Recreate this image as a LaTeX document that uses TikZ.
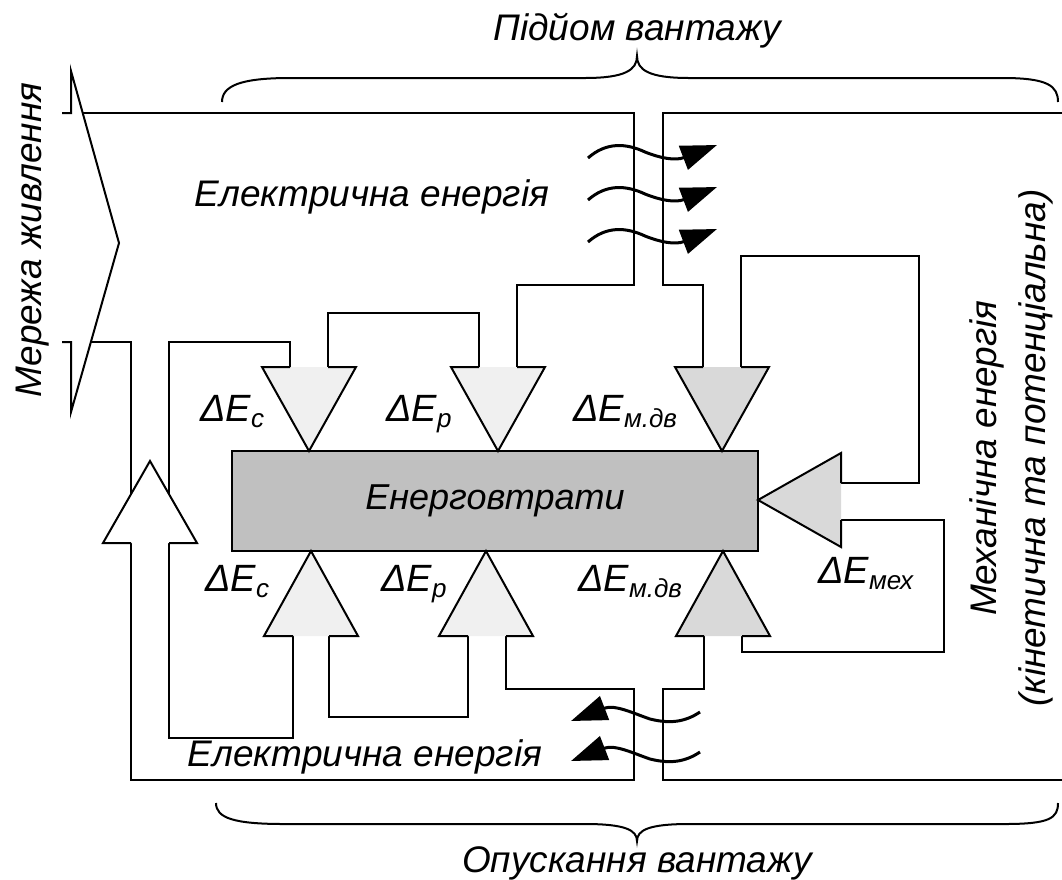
\documentclass[tikz,border=0pt]{standalone}
\usepackage{fontspec}
\setmainfont{Liberation Sans}
\usetikzlibrary{arrows.meta}
\definecolor{lt}{HTML}{F0F0F0}
\definecolor{md}{HTML}{D9D9D9}
\definecolor{bx}{HTML}{C0C0C0}
\newcommand\sbs[1]{\raisebox{-6pt}{\fontsize{26}{28}\selectfont #1}}
\begin{document}
\begin{tikzpicture}[x=1pt,y=-1pt,
  ln/.style={line width=2pt, line join=miter},
  tri/.style={line width=2pt, line join=miter},
  wavearrow/.style={line width=3pt, -{Triangle[length=36pt,width=25pt]}},
  lbl/.style={inner sep=0pt, font=\itshape\fontsize{37}{44}\selectfont},
  dlbl/.style={inner sep=0pt, anchor=base west, font=\itshape\fontsize{38}{42}\selectfont}]
\useasboundingbox (0,0) rectangle (1062,879);

% network shape
\coordinate (n1) at (62,113); \coordinate (n2) at (71,113); \coordinate (n3) at (71,71);
\coordinate (n4) at (119,243); \coordinate (n5) at (71,412); \coordinate (n6) at (71,342);
\coordinate (n7) at (62,342);
\draw[ln] (n1) -- (n2) -- (n3) -- (n4) -- (n5) -- (n6) -- (n7);
\coordinate (netTop) at (83,113);
\coordinate (netBot) at (91,342);

% stems
\coordinate (tcL) at (290,367); \coordinate (tcR) at (328,367);
\coordinate (tpL) at (479,367); \coordinate (tpR) at (517,367);
\coordinate (tmL) at (703,367); \coordinate (tmR) at (741,367);
\coordinate (bcL) at (293,636); \coordinate (bcR) at (329,636);
\coordinate (bpL) at (468,636); \coordinate (bpR) at (506,636);
\coordinate (bmL) at (704,636); \coordinate (bmR) at (742,636);
\coordinate (meT) at (841,483); \coordinate (meB) at (841,520);
\coordinate (rTop) at (1062,113); \coordinate (rBot) at (1062,780);

% connectors
\draw[ln] (netTop) -- (634,113) -- (634,285) -- (517,285) -- (tpR);
\draw[ln] (netBot) -- (131,342) -- (131,780) -- (634,780) -- (634,689) -- (506,689) -- (bpR);
\draw[ln] (tcL) -- (290,342) -- (169,342) -- (169,738) -- (293,738) -- (bcL);
\draw[ln] (tcR) -- (328,313) -- (479,313) -- (tpL);
\draw[ln] (bcR) -- (329,717) -- (468,717) -- (bpL);
\draw[ln] (rTop) -- (663,113) -- (663,285) -- (703,285) -- (tmL);
\draw[ln] (tmR) -- (741,256) -- (919,256) -- (919,483) -- (meT);
\draw[ln] (meB) -- (944,520) -- (944,652) -- (742,652) -- (bmR);
\draw[ln] (bmL) -- (704,689) -- (663,689) -- (663,780) -- (rBot);

% loss box
\node[draw, fill=bx, line width=2pt, minimum width=526pt, minimum height=100pt, inner sep=0pt,
      font=\itshape\fontsize{36}{44}\selectfont] (box) at (495,501) {Енерговтрати};

% block arrows
\fill[lt] (262,367) -- (309,451) -- (356,367) -- cycle;
\draw[tri] (tcL) -- (262,367) -- (309,451) -- (356,367) -- (tcR);
\fill[lt] (451,367) -- (498,451) -- (545,367) -- cycle;
\draw[tri] (tpL) -- (451,367) -- (498,451) -- (545,367) -- (tpR);
\fill[md] (675,367) -- (722,451) -- (769,367) -- cycle;
\draw[tri] (tmL) -- (675,367) -- (722,451) -- (769,367) -- (tmR);
\fill[lt] (264,636) -- (311,551) -- (358,636) -- cycle;
\draw[tri] (bcL) -- (264,636) -- (311,551) -- (358,636) -- (bcR);
\fill[lt] (439,636) -- (486,551) -- (533,636) -- cycle;
\draw[tri] (bpL) -- (439,636) -- (486,551) -- (533,636) -- (bpR);
\fill[md] (676,636) -- (723,551) -- (770,636) -- cycle;
\draw[tri] (bmL) -- (676,636) -- (723,551) -- (770,636) -- (bmR);
\fill[md] (841,453) -- (758,500) -- (841,547) -- cycle;
\draw[tri] (meT) -- (841,453) -- (758,500) -- (841,547) -- (meB);
\fill[white] (103,543) -- (150,461) -- (197,543) -- cycle;
\draw[tri] (131,543) -- (103,543) -- (150,461) -- (197,543) -- (169,543);

% waves
\foreach \y [count=\i] in {158,200,242} {
  \coordinate (ws\i) at (588,\y);
  \coordinate (we\i) at (717,\y-13);
  \draw[wavearrow] (ws\i) .. controls (606,\y-16) and (626,\y-15) .. (645,\y-6)
     .. controls (660,\y) and (675,\y+3) .. (we\i);
}
\foreach \y [count=\i] in {712,752} {
  \coordinate (bs\i) at (700,\y);
  \coordinate (be\i) at (571,\y+9);
  \draw[wavearrow] (bs\i) .. controls (685,\y+10) and (670,\y+12) .. (650,\y+7)
     .. controls (635,\y+2) and (615,\y-8) .. (be\i);
}

% braces
\draw[ln] (222,102) .. controls (222,86) and (240,78) .. (290,78) -- (585,78)
  .. controls (625,78) and (637,70) .. (637,56) .. controls (637,70) and (649,78) .. (689,78)
  -- (1003,78) .. controls (1048,78) and (1058,86) .. (1058,102);
\draw[ln] (216,803) .. controls (216,818) and (234,824) .. (284,824) -- (585,824)
  .. controls (625,824) and (637,830) .. (637,841) .. controls (637,830) and (649,824) .. (689,824)
  -- (1005,824) .. controls (1050,824) and (1058,818) .. (1058,803);

% texts
\node[lbl, anchor=base] (tUp) at (637,40) {Підйом вантажу};
\node[lbl, anchor=base] (tDown) at (637,872) {Опускання вантажу};
\node[lbl, anchor=base] (tE1) at (372,206) {Електрична енергія};
\node[lbl, anchor=base] (tE2) at (365,766) {Електрична енергія};
\node[lbl, anchor=base, rotate=90] (tNet) at (41,240) {Мережа живлення};
\node[lbl, anchor=base, rotate=90] (tMech) at (996,458) {Механічна енергія};
\node[lbl, anchor=base, rotate=90] (tMech2) at (1045,448) {(кінетична та потенціальна)};

\node[dlbl] (l1) at (200,421) {ΔE\sbs{с}};
\node[dlbl] (l2) at (386,421) {ΔE\sbs{р}};
\node[dlbl] (l3) at (573,421) {ΔE\sbs{м.дв}};
\node[dlbl] (l4) at (205,591) {ΔE\sbs{с}};
\node[dlbl] (l5) at (381,591) {ΔE\sbs{р}};
\node[dlbl] (l6) at (578,591) {ΔE\sbs{м.дв}};
\node[dlbl] (l7) at (818,583) {ΔE\sbs{мех}};
\end{tikzpicture}
\end{document}
